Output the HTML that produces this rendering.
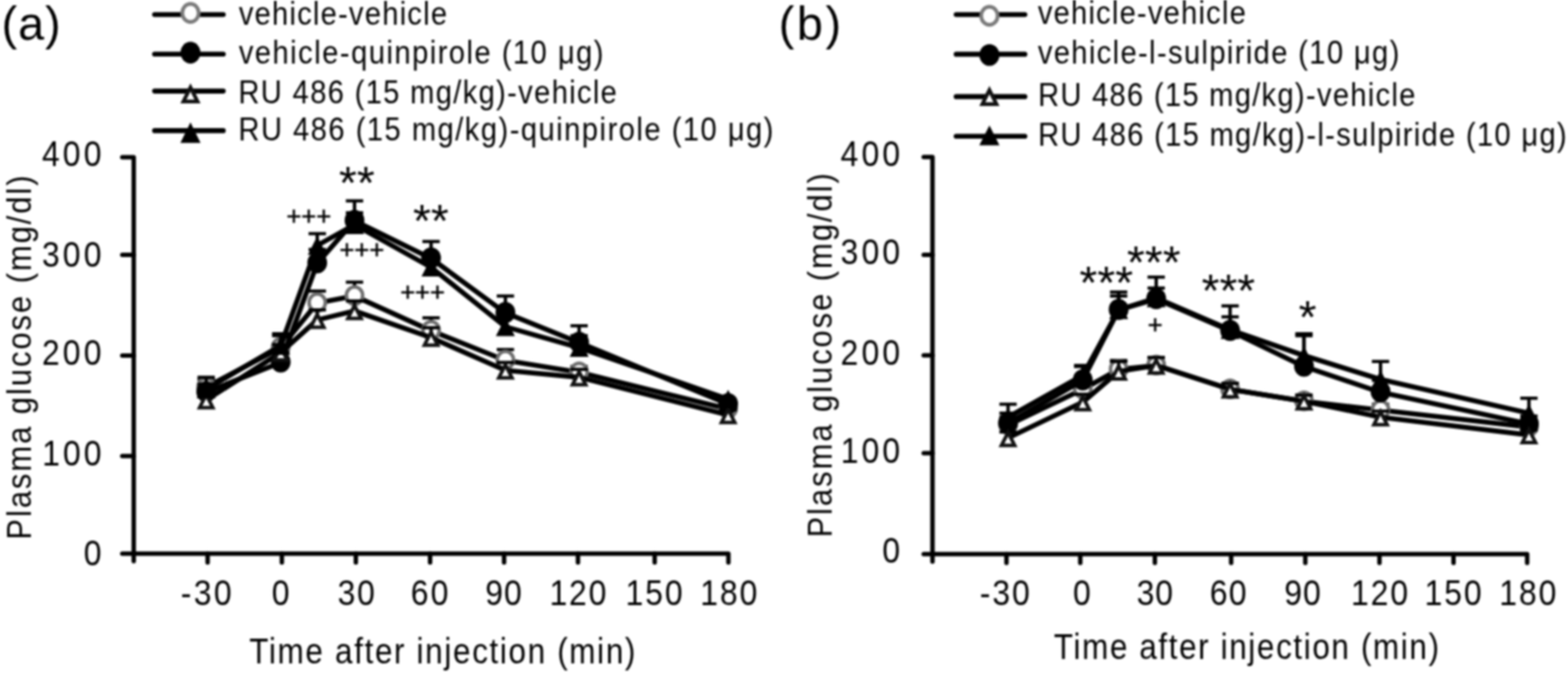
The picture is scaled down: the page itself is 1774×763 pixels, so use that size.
<!DOCTYPE html>
<html><head><meta charset="utf-8"><title>Plasma glucose</title>
<style>html,body{margin:0;padding:0;background:#fff;overflow:hidden;}svg{display:block;}#w{filter:blur(1px);}</style>
</head><body>
<div id="w"><svg width="1774" height="763" viewBox="0 0 1774 763" font-family="Liberation Sans, Arial, sans-serif" fill="#000">
<rect width="1774" height="763" fill="#fff"/>
<g stroke="#000" stroke-width="5.0" fill="none" stroke-linecap="round">
<path d="M138.3 178.1 H151.3 V635.3" stroke-linejoin="round"/>
<path d="M138.3 626.8 H824.1 V636.8" stroke-linejoin="round"/>
<path d="M138.3 288.6 H151.3"/>
<path d="M138.3 402.6 H151.3"/>
<path d="M138.3 516.2 H151.3"/>
<path d="M234.9 626.8 V636.8"/>
<path d="M318.9 626.8 V636.8"/>
<path d="M402.6 626.8 V636.8"/>
<path d="M486.6 626.8 V636.8"/>
<path d="M570.3 626.8 V636.8"/>
<path d="M653.9 626.8 V636.8"/>
<path d="M740.7 626.8 V636.8"/>
</g>
<text transform="scale(0.89,1)" x="53.27" y="188.33" font-size="40.5" textLength="75.61" lengthAdjust="spacing">400</text>
<text transform="scale(0.89,1)" x="53.35" y="302.13" font-size="40.5" textLength="75.54" lengthAdjust="spacing">300</text>
<text transform="scale(0.89,1)" x="53.41" y="413.03" font-size="40.5" textLength="75.48" lengthAdjust="spacing">200</text>
<text transform="scale(0.89,1)" x="53.54" y="526.93" font-size="40.5" textLength="75.35" lengthAdjust="spacing">100</text>
<text transform="scale(0.89,1)" x="106.36" y="640.03" font-size="40.5">0</text>
<text transform="scale(0.89,1)" x="229.66" y="685.20" font-size="40.5" textLength="64.73" lengthAdjust="spacing">-30</text>
<text transform="scale(0.89,1)" x="345.65" y="685.20" font-size="40.5">0</text>
<text transform="scale(0.89,1)" x="429.13" y="685.20" font-size="40.5" textLength="47.28" lengthAdjust="spacing">30</text>
<text transform="scale(0.89,1)" x="522.33" y="685.20" font-size="40.5" textLength="47.68" lengthAdjust="spacing">60</text>
<text transform="scale(0.89,1)" x="616.75" y="685.20" font-size="40.5" textLength="46.51" lengthAdjust="spacing">90</text>
<text transform="scale(0.89,1)" x="698.49" y="685.20" font-size="40.5" textLength="72.42" lengthAdjust="spacing">120</text>
<text transform="scale(0.89,1)" x="795.34" y="685.20" font-size="40.5" textLength="72.53" lengthAdjust="spacing">150</text>
<text transform="scale(0.89,1)" x="890.17" y="685.20" font-size="40.5" textLength="72.42" lengthAdjust="spacing">180</text>
<text transform="scale(0.89,1)" x="316.85" y="751.30" font-size="40" textLength="490.91" lengthAdjust="spacing">Time after injection (min)</text>
<text transform="translate(34.60,608.00) rotate(-90) scale(0.89,1)" x="-3.24" font-size="39.5" textLength="463.22" lengthAdjust="spacing">Plasma glucose (mg/dl)</text>
<text transform="scale(1.0,1)" x="1.71" y="45.20" font-size="53" textLength="67.07" lengthAdjust="spacing">(a)</text>
<path d="M174.9 16.5 H252.6" stroke="#000" stroke-width="5.6" stroke-linecap="round"/>
<ellipse cx="215.5" cy="14.6" rx="9.3" ry="10.3" fill="#fff" stroke="#7a7a7a" stroke-width="4.2"/>
<text transform="scale(0.89,1)" x="303.58" y="27.50" font-size="37" textLength="264.69" lengthAdjust="spacing">vehicle-vehicle</text>
<path d="M174.9 61.3 H252.6" stroke="#000" stroke-width="5.6" stroke-linecap="round"/>
<ellipse cx="215.5" cy="59.6" rx="11.3" ry="12.3" fill="#000"/>
<text transform="scale(0.89,1)" x="303.58" y="72.00" font-size="37" textLength="463.66" lengthAdjust="spacing">vehicle-quinpirole (10 μg)</text>
<path d="M174.9 103.1 H252.6" stroke="#000" stroke-width="5.6" stroke-linecap="round"/>
<polygon points="215.5,99.0 223.5,114.9 207.5,114.9" fill="#fff" stroke="#111" stroke-width="4.2" stroke-linejoin="miter" stroke-miterlimit="10"/>
<text transform="scale(0.89,1)" x="303.14" y="117.00" font-size="37" textLength="481.08" lengthAdjust="spacing">RU 486 (15 mg/kg)-vehicle</text>
<path d="M174.9 147.9 H252.6" stroke="#000" stroke-width="5.6" stroke-linecap="round"/>
<polygon points="215.5,138.5 226.9,161.8 204.1,161.8" fill="#000"/>
<text transform="scale(0.89,1)" x="303.14" y="158.60" font-size="37" textLength="680.05" lengthAdjust="spacing">RU 486 (15 mg/kg)-quinpirole (10 μg)</text>
<path d="M233.3 438.3 V429.4" stroke="#000" stroke-width="3.8" fill="none"/><path d="M223.5 429.4 H243.1" stroke="#000" stroke-width="3.6" fill="none"/>
<path d="M317.6 393.5 V380.0" stroke="#000" stroke-width="3.8" fill="none"/><path d="M307.8 380.0 H327.4" stroke="#000" stroke-width="3.6" fill="none"/>
<path d="M358.9 343.0 V329.5" stroke="#000" stroke-width="3.8" fill="none"/><path d="M349.1 329.5 H368.8" stroke="#000" stroke-width="3.6" fill="none"/>
<path d="M401.1 335.1 V319.4" stroke="#000" stroke-width="3.8" fill="none"/><path d="M391.3 319.4 H410.9" stroke="#000" stroke-width="3.6" fill="none"/>
<path d="M487.7 374.4 V359.8" stroke="#000" stroke-width="3.8" fill="none"/><path d="M477.9 359.8 H497.5" stroke="#000" stroke-width="3.6" fill="none"/>
<path d="M571.8 408.0 V395.7" stroke="#000" stroke-width="3.8" fill="none"/><path d="M562.0 395.7 H581.6" stroke="#000" stroke-width="3.6" fill="none"/>
<path d="M655.2 421.5 V414.8" stroke="#000" stroke-width="3.8" fill="none"/><path d="M645.4 414.8 H665.0" stroke="#000" stroke-width="3.6" fill="none"/>
<path d="M823.8 463.0 V457.4" stroke="#000" stroke-width="3.8" fill="none"/><path d="M814.0 457.4 H833.6" stroke="#000" stroke-width="3.6" fill="none"/>
<path d="M233.3 438.3 L317.6 393.5 L358.9 343.0 L401.1 335.1 L487.7 374.4 L571.8 408.0 L655.2 421.5 L823.8 463.0" stroke="#000" stroke-width="5.6" fill="none" stroke-linejoin="round"/>
<ellipse cx="233.3" cy="437.8" rx="9.2" ry="9.8" fill="#fff" stroke="#6e6e6e" stroke-width="4"/>
<ellipse cx="317.6" cy="393.0" rx="9.2" ry="9.8" fill="#fff" stroke="#6e6e6e" stroke-width="4"/>
<ellipse cx="358.9" cy="342.5" rx="9.2" ry="9.8" fill="#fff" stroke="#6e6e6e" stroke-width="4"/>
<ellipse cx="401.1" cy="334.6" rx="9.2" ry="9.8" fill="#fff" stroke="#6e6e6e" stroke-width="4"/>
<ellipse cx="487.7" cy="373.9" rx="9.2" ry="9.8" fill="#fff" stroke="#6e6e6e" stroke-width="4"/>
<ellipse cx="571.8" cy="407.5" rx="9.2" ry="9.8" fill="#fff" stroke="#6e6e6e" stroke-width="4"/>
<ellipse cx="655.2" cy="421.0" rx="9.2" ry="9.8" fill="#fff" stroke="#6e6e6e" stroke-width="4"/>
<ellipse cx="823.8" cy="462.5" rx="9.2" ry="9.8" fill="#fff" stroke="#6e6e6e" stroke-width="4"/>
<path d="M233.3 443.9 V435.0" stroke="#000" stroke-width="3.8" fill="none"/><path d="M223.5 435.0 H243.1" stroke="#000" stroke-width="3.6" fill="none"/>
<path d="M317.6 410.3 V399.1" stroke="#000" stroke-width="3.8" fill="none"/><path d="M307.8 399.1 H327.4" stroke="#000" stroke-width="3.6" fill="none"/>
<path d="M358.9 298.1 V282.4" stroke="#000" stroke-width="3.8" fill="none"/><path d="M349.1 282.4 H368.8" stroke="#000" stroke-width="3.6" fill="none"/>
<path d="M401.1 249.9 V227.4" stroke="#000" stroke-width="3.8" fill="none"/><path d="M391.3 227.4 H410.9" stroke="#000" stroke-width="3.6" fill="none"/>
<path d="M487.7 292.5 V273.4" stroke="#000" stroke-width="3.8" fill="none"/><path d="M477.9 273.4 H497.5" stroke="#000" stroke-width="3.6" fill="none"/>
<path d="M571.8 354.2 V335.1" stroke="#000" stroke-width="3.8" fill="none"/><path d="M562.0 335.1 H581.6" stroke="#000" stroke-width="3.6" fill="none"/>
<path d="M655.2 387.9 V368.8" stroke="#000" stroke-width="3.8" fill="none"/><path d="M645.4 368.8 H665.0" stroke="#000" stroke-width="3.6" fill="none"/>
<path d="M233.3 443.9 L317.6 410.3 L358.9 298.1 L401.1 249.9 L487.7 292.5 L571.8 354.2 L655.2 387.9 L823.8 457.4" stroke="#000" stroke-width="5.6" fill="none" stroke-linejoin="round"/>
<ellipse cx="233.3" cy="443.4" rx="11.2" ry="12" fill="#000"/>
<ellipse cx="317.6" cy="409.8" rx="11.2" ry="12" fill="#000"/>
<ellipse cx="358.9" cy="297.6" rx="11.2" ry="12" fill="#000"/>
<ellipse cx="401.1" cy="249.4" rx="11.2" ry="12" fill="#000"/>
<ellipse cx="487.7" cy="292.0" rx="11.2" ry="12" fill="#000"/>
<ellipse cx="571.8" cy="353.7" rx="11.2" ry="12" fill="#000"/>
<ellipse cx="655.2" cy="387.4" rx="11.2" ry="12" fill="#000"/>
<ellipse cx="823.8" cy="456.9" rx="11.2" ry="12" fill="#000"/>
<path d="M233.3 452.9 V447.3" stroke="#000" stroke-width="3.8" fill="none"/><path d="M223.5 447.3 H243.1" stroke="#000" stroke-width="3.6" fill="none"/>
<path d="M317.6 399.1 V390.1" stroke="#000" stroke-width="3.8" fill="none"/><path d="M307.8 390.1 H327.4" stroke="#000" stroke-width="3.6" fill="none"/>
<path d="M358.9 362.1 V350.8" stroke="#000" stroke-width="3.8" fill="none"/><path d="M349.1 350.8 H368.8" stroke="#000" stroke-width="3.6" fill="none"/>
<path d="M401.1 352.0 V340.7" stroke="#000" stroke-width="3.8" fill="none"/><path d="M391.3 340.7 H410.9" stroke="#000" stroke-width="3.6" fill="none"/>
<path d="M487.7 382.2 V371.0" stroke="#000" stroke-width="3.8" fill="none"/><path d="M477.9 371.0 H497.5" stroke="#000" stroke-width="3.6" fill="none"/>
<path d="M571.8 419.3 V410.3" stroke="#000" stroke-width="3.8" fill="none"/><path d="M562.0 410.3 H581.6" stroke="#000" stroke-width="3.6" fill="none"/>
<path d="M655.2 427.1 V418.1" stroke="#000" stroke-width="3.8" fill="none"/><path d="M645.4 418.1 H665.0" stroke="#000" stroke-width="3.6" fill="none"/>
<path d="M823.8 469.7 V464.1" stroke="#000" stroke-width="3.8" fill="none"/><path d="M814.0 464.1 H833.6" stroke="#000" stroke-width="3.6" fill="none"/>
<path d="M233.3 452.9 L317.6 399.1 L358.9 362.1 L401.1 352.0 L487.7 382.2 L571.8 419.3 L655.2 427.1 L823.8 469.7" stroke="#000" stroke-width="5.6" fill="none" stroke-linejoin="round"/>
<polygon points="233.3,446.8 240.8,461.4 225.8,461.4" fill="#fff" stroke="#111" stroke-width="4.0" stroke-linejoin="miter" stroke-miterlimit="10"/>
<polygon points="317.6,393.0 325.1,407.6 310.1,407.6" fill="#fff" stroke="#111" stroke-width="4.0" stroke-linejoin="miter" stroke-miterlimit="10"/>
<polygon points="358.9,355.9 366.4,370.6 351.5,370.6" fill="#fff" stroke="#111" stroke-width="4.0" stroke-linejoin="miter" stroke-miterlimit="10"/>
<polygon points="401.1,345.8 408.6,360.5 393.6,360.5" fill="#fff" stroke="#111" stroke-width="4.0" stroke-linejoin="miter" stroke-miterlimit="10"/>
<polygon points="487.7,376.1 495.2,390.7 480.2,390.7" fill="#fff" stroke="#111" stroke-width="4.0" stroke-linejoin="miter" stroke-miterlimit="10"/>
<polygon points="571.8,413.2 579.3,427.8 564.3,427.8" fill="#fff" stroke="#111" stroke-width="4.0" stroke-linejoin="miter" stroke-miterlimit="10"/>
<polygon points="655.2,421.0 662.7,435.6 647.7,435.6" fill="#fff" stroke="#111" stroke-width="4.0" stroke-linejoin="miter" stroke-miterlimit="10"/>
<polygon points="823.8,463.6 831.3,478.2 816.3,478.2" fill="#fff" stroke="#111" stroke-width="4.0" stroke-linejoin="miter" stroke-miterlimit="10"/>
<path d="M233.3 440.6 V427.1" stroke="#000" stroke-width="3.8" fill="none"/><path d="M223.5 427.1 H243.1" stroke="#000" stroke-width="3.6" fill="none"/>
<path d="M317.6 391.2 V377.8" stroke="#000" stroke-width="3.8" fill="none"/><path d="M307.8 377.8 H327.4" stroke="#000" stroke-width="3.6" fill="none"/>
<path d="M358.9 277.9 V264.5" stroke="#000" stroke-width="3.8" fill="none"/><path d="M349.1 264.5 H368.8" stroke="#000" stroke-width="3.6" fill="none"/>
<path d="M401.1 254.4 V240.9" stroke="#000" stroke-width="3.8" fill="none"/><path d="M391.3 240.9 H410.9" stroke="#000" stroke-width="3.6" fill="none"/>
<path d="M487.7 302.6 V289.1" stroke="#000" stroke-width="3.8" fill="none"/><path d="M477.9 289.1 H497.5" stroke="#000" stroke-width="3.6" fill="none"/>
<path d="M571.8 369.9 V349.7" stroke="#000" stroke-width="3.8" fill="none"/><path d="M562.0 349.7 H581.6" stroke="#000" stroke-width="3.6" fill="none"/>
<path d="M655.2 393.5 V380.0" stroke="#000" stroke-width="3.8" fill="none"/><path d="M645.4 380.0 H665.0" stroke="#000" stroke-width="3.6" fill="none"/>
<path d="M233.3 440.6 L317.6 391.2 L358.9 277.9 L401.1 254.4 L487.7 302.6 L571.8 369.9 L655.2 393.5 L823.8 451.8" stroke="#000" stroke-width="5.6" fill="none" stroke-linejoin="round"/>
<polygon points="233.3,430.1 244.0,451.1 222.5,451.1" fill="#000"/>
<polygon points="317.6,380.7 328.3,401.7 306.8,401.7" fill="#000"/>
<polygon points="358.9,267.4 369.7,288.4 348.2,288.4" fill="#000"/>
<polygon points="401.1,243.9 411.9,264.9 390.4,264.9" fill="#000"/>
<polygon points="487.7,292.1 498.4,313.1 476.9,313.1" fill="#000"/>
<polygon points="571.8,359.4 582.5,380.4 561.0,380.4" fill="#000"/>
<polygon points="655.2,383.0 666.0,404.0 644.5,404.0" fill="#000"/>
<polygon points="823.8,441.3 834.6,462.3 813.1,462.3" fill="#000"/>
<text x="403.65" y="224.52" font-size="52" text-anchor="middle">**</text>
<text x="349.35" y="254.81" font-size="29" text-anchor="middle" stroke="#000" stroke-width="0.5">+++</text>
<text x="409.35" y="292.91" font-size="29" text-anchor="middle" stroke="#000" stroke-width="0.5">+++</text>
<text x="487.55" y="267.82" font-size="52" text-anchor="middle">**</text>
<text x="478.10" y="341.31" font-size="29" text-anchor="middle" stroke="#000" stroke-width="0.5">+++</text>
<g stroke="#000" stroke-width="5.0" fill="none" stroke-linecap="round">
<path d="M1045.0 177.8 H1055.0 V635.7" stroke-linejoin="round"/>
<path d="M1045.0 627.2 H1727.8 V637.2" stroke-linejoin="round"/>
<path d="M1045.0 288.4 H1055.0"/>
<path d="M1045.0 402.3 H1055.0"/>
<path d="M1045.0 513.1 H1055.0"/>
<path d="M1138.7 627.2 V637.2"/>
<path d="M1222.2 627.2 V637.2"/>
<path d="M1306.6 627.2 V637.2"/>
<path d="M1392.9 627.2 V637.2"/>
<path d="M1476.8 627.2 V637.2"/>
<path d="M1560.7 627.2 V637.2"/>
<path d="M1644.5 627.2 V637.2"/>
</g>
<text transform="scale(0.89,1)" x="1068.55" y="188.33" font-size="40.5" textLength="75.61" lengthAdjust="spacing">400</text>
<text transform="scale(0.89,1)" x="1068.63" y="298.83" font-size="40.5" textLength="75.54" lengthAdjust="spacing">300</text>
<text transform="scale(0.89,1)" x="1068.69" y="412.93" font-size="40.5" textLength="75.48" lengthAdjust="spacing">200</text>
<text transform="scale(0.89,1)" x="1068.82" y="523.83" font-size="40.5" textLength="75.35" lengthAdjust="spacing">100</text>
<text transform="scale(0.89,1)" x="1121.64" y="637.43" font-size="40.5">0</text>
<text transform="scale(0.89,1)" x="1245.50" y="685.20" font-size="40.5" textLength="63.61" lengthAdjust="spacing">-30</text>
<text transform="scale(0.89,1)" x="1364.13" y="685.20" font-size="40.5">0</text>
<text transform="scale(0.89,1)" x="1444.97" y="685.20" font-size="40.5" textLength="46.05" lengthAdjust="spacing">30</text>
<text transform="scale(0.89,1)" x="1538.06" y="685.20" font-size="40.5" textLength="46.67" lengthAdjust="spacing">60</text>
<text transform="scale(0.89,1)" x="1632.48" y="685.20" font-size="40.5" textLength="46.51" lengthAdjust="spacing">90</text>
<text transform="scale(0.89,1)" x="1717.48" y="685.20" font-size="40.5" textLength="72.42" lengthAdjust="spacing">120</text>
<text transform="scale(0.89,1)" x="1811.07" y="685.20" font-size="40.5" textLength="72.53" lengthAdjust="spacing">150</text>
<text transform="scale(0.89,1)" x="1905.90" y="685.20" font-size="40.5" textLength="72.42" lengthAdjust="spacing">180</text>
<text transform="scale(0.89,1)" x="1339.55" y="746.20" font-size="40" textLength="489.67" lengthAdjust="spacing">Time after injection (min)</text>
<text transform="translate(941.20,605.60) rotate(-90) scale(0.89,1)" x="-3.24" font-size="39.5" textLength="463.33" lengthAdjust="spacing">Plasma glucose (mg/dl)</text>
<text transform="scale(1.0,1)" x="880.91" y="45.20" font-size="53" textLength="70.77" lengthAdjust="spacing">(b)</text>
<path d="M1081.8 16.5 H1159.5" stroke="#000" stroke-width="5.6" stroke-linecap="round"/>
<ellipse cx="1119.4" cy="17.9" rx="9.3" ry="10.3" fill="#fff" stroke="#7a7a7a" stroke-width="4.2"/>
<text transform="scale(0.89,1)" x="1319.31" y="27.20" font-size="37" textLength="264.35" lengthAdjust="spacing">vehicle-vehicle</text>
<path d="M1081.8 61.4 H1159.5" stroke="#000" stroke-width="5.6" stroke-linecap="round"/>
<ellipse cx="1119.4" cy="62.2" rx="11.3" ry="12.3" fill="#000"/>
<text transform="scale(0.89,1)" x="1319.31" y="71.80" font-size="37" textLength="459.50" lengthAdjust="spacing">vehicle-l-sulpiride (10 μg)</text>
<path d="M1081.8 109.4 H1159.5" stroke="#000" stroke-width="5.6" stroke-linecap="round"/>
<polygon points="1119.4,102.0 1127.4,117.9 1111.4,117.9" fill="#fff" stroke="#111" stroke-width="4.2" stroke-linejoin="miter" stroke-miterlimit="10"/>
<text transform="scale(0.89,1)" x="1319.55" y="120.30" font-size="37" textLength="479.62" lengthAdjust="spacing">RU 486 (15 mg/kg)-vehicle</text>
<path d="M1081.8 154.3 H1159.5" stroke="#000" stroke-width="5.6" stroke-linecap="round"/>
<polygon points="1119.4,141.9 1130.8,164.6 1108.0,164.6" fill="#000"/>
<text transform="scale(0.89,1)" x="1319.55" y="164.90" font-size="37" textLength="672.07" lengthAdjust="spacing">RU 486 (15 mg/kg)-l-sulpiride (10 μg)</text>
<path d="M1140.5 481.1 V472.2" stroke="#000" stroke-width="3.8" fill="none"/><path d="M1130.7 472.2 H1150.3" stroke="#000" stroke-width="3.6" fill="none"/>
<path d="M1225.0 440.7 V429.5" stroke="#000" stroke-width="3.8" fill="none"/><path d="M1215.2 429.5 H1234.8" stroke="#000" stroke-width="3.6" fill="none"/>
<path d="M1265.6 418.2 V408.1" stroke="#000" stroke-width="3.8" fill="none"/><path d="M1255.8 408.1 H1275.4" stroke="#000" stroke-width="3.6" fill="none"/>
<path d="M1308.1 413.7 V404.7" stroke="#000" stroke-width="3.8" fill="none"/><path d="M1298.3 404.7 H1317.9" stroke="#000" stroke-width="3.6" fill="none"/>
<path d="M1391.7 440.7 V434.0" stroke="#000" stroke-width="3.8" fill="none"/><path d="M1381.9 434.0 H1401.5" stroke="#000" stroke-width="3.6" fill="none"/>
<path d="M1475.3 454.2 V447.4" stroke="#000" stroke-width="3.8" fill="none"/><path d="M1465.5 447.4 H1485.1" stroke="#000" stroke-width="3.6" fill="none"/>
<path d="M1561.9 464.3 V457.6" stroke="#000" stroke-width="3.8" fill="none"/><path d="M1552.1 457.6 H1571.7" stroke="#000" stroke-width="3.6" fill="none"/>
<path d="M1729.8 483.4 V476.7" stroke="#000" stroke-width="3.8" fill="none"/><path d="M1720.0 476.7 H1739.6" stroke="#000" stroke-width="3.6" fill="none"/>
<path d="M1140.5 481.1 L1225.0 440.7 L1265.6 418.2 L1308.1 413.7 L1391.7 440.7 L1475.3 454.2 L1561.9 464.3 L1729.8 483.4" stroke="#000" stroke-width="5.6" fill="none" stroke-linejoin="round"/>
<ellipse cx="1140.5" cy="480.6" rx="9.2" ry="9.8" fill="#fff" stroke="#6e6e6e" stroke-width="4"/>
<ellipse cx="1225.0" cy="440.2" rx="9.2" ry="9.8" fill="#fff" stroke="#6e6e6e" stroke-width="4"/>
<ellipse cx="1265.6" cy="417.7" rx="9.2" ry="9.8" fill="#fff" stroke="#6e6e6e" stroke-width="4"/>
<ellipse cx="1308.1" cy="413.2" rx="9.2" ry="9.8" fill="#fff" stroke="#6e6e6e" stroke-width="4"/>
<ellipse cx="1391.7" cy="440.2" rx="9.2" ry="9.8" fill="#fff" stroke="#6e6e6e" stroke-width="4"/>
<ellipse cx="1475.3" cy="453.7" rx="9.2" ry="9.8" fill="#fff" stroke="#6e6e6e" stroke-width="4"/>
<ellipse cx="1561.9" cy="463.8" rx="9.2" ry="9.8" fill="#fff" stroke="#6e6e6e" stroke-width="4"/>
<ellipse cx="1729.8" cy="482.9" rx="9.2" ry="9.8" fill="#fff" stroke="#6e6e6e" stroke-width="4"/>
<path d="M1140.5 478.9 V467.7" stroke="#000" stroke-width="3.8" fill="none"/><path d="M1130.7 467.7 H1150.3" stroke="#000" stroke-width="3.6" fill="none"/>
<path d="M1225.0 430.6 V414.9" stroke="#000" stroke-width="3.8" fill="none"/><path d="M1215.2 414.9 H1234.8" stroke="#000" stroke-width="3.6" fill="none"/>
<path d="M1265.6 350.8 V335.1" stroke="#000" stroke-width="3.8" fill="none"/><path d="M1255.8 335.1 H1275.4" stroke="#000" stroke-width="3.6" fill="none"/>
<path d="M1308.1 338.5 V313.7" stroke="#000" stroke-width="3.8" fill="none"/><path d="M1298.3 313.7 H1317.9" stroke="#000" stroke-width="3.6" fill="none"/>
<path d="M1391.7 374.4 V346.3" stroke="#000" stroke-width="3.8" fill="none"/><path d="M1381.9 346.3 H1401.5" stroke="#000" stroke-width="3.6" fill="none"/>
<path d="M1475.3 414.9 V377.8" stroke="#000" stroke-width="3.8" fill="none"/><path d="M1465.5 377.8 H1485.1" stroke="#000" stroke-width="3.6" fill="none"/>
<path d="M1561.9 444.1 V430.6" stroke="#000" stroke-width="3.8" fill="none"/><path d="M1552.1 430.6 H1571.7" stroke="#000" stroke-width="3.6" fill="none"/>
<path d="M1729.8 480.0 V471.0" stroke="#000" stroke-width="3.8" fill="none"/><path d="M1720.0 471.0 H1739.6" stroke="#000" stroke-width="3.6" fill="none"/>
<path d="M1140.5 478.9 L1225.0 430.6 L1265.6 350.8 L1308.1 338.5 L1391.7 374.4 L1475.3 414.9 L1561.9 444.1 L1729.8 480.0" stroke="#000" stroke-width="5.6" fill="none" stroke-linejoin="round"/>
<ellipse cx="1140.5" cy="478.4" rx="11.2" ry="12" fill="#000"/>
<ellipse cx="1225.0" cy="430.1" rx="11.2" ry="12" fill="#000"/>
<ellipse cx="1265.6" cy="350.3" rx="11.2" ry="12" fill="#000"/>
<ellipse cx="1308.1" cy="338.0" rx="11.2" ry="12" fill="#000"/>
<ellipse cx="1391.7" cy="373.9" rx="11.2" ry="12" fill="#000"/>
<ellipse cx="1475.3" cy="414.4" rx="11.2" ry="12" fill="#000"/>
<ellipse cx="1561.9" cy="443.6" rx="11.2" ry="12" fill="#000"/>
<ellipse cx="1729.8" cy="479.5" rx="11.2" ry="12" fill="#000"/>
<path d="M1140.5 495.8 V489.0" stroke="#000" stroke-width="3.8" fill="none"/><path d="M1130.7 489.0 H1150.3" stroke="#000" stroke-width="3.6" fill="none"/>
<path d="M1225.0 455.3 V446.3" stroke="#000" stroke-width="3.8" fill="none"/><path d="M1215.2 446.3 H1234.8" stroke="#000" stroke-width="3.6" fill="none"/>
<path d="M1265.6 420.5 V409.2" stroke="#000" stroke-width="3.8" fill="none"/><path d="M1255.8 409.2 H1275.4" stroke="#000" stroke-width="3.6" fill="none"/>
<path d="M1308.1 413.7 V404.7" stroke="#000" stroke-width="3.8" fill="none"/><path d="M1298.3 404.7 H1317.9" stroke="#000" stroke-width="3.6" fill="none"/>
<path d="M1391.7 440.7 V434.0" stroke="#000" stroke-width="3.8" fill="none"/><path d="M1381.9 434.0 H1401.5" stroke="#000" stroke-width="3.6" fill="none"/>
<path d="M1475.3 454.2 V447.4" stroke="#000" stroke-width="3.8" fill="none"/><path d="M1465.5 447.4 H1485.1" stroke="#000" stroke-width="3.6" fill="none"/>
<path d="M1561.9 472.2 V465.4" stroke="#000" stroke-width="3.8" fill="none"/><path d="M1552.1 465.4 H1571.7" stroke="#000" stroke-width="3.6" fill="none"/>
<path d="M1729.8 492.4 V486.8" stroke="#000" stroke-width="3.8" fill="none"/><path d="M1720.0 486.8 H1739.6" stroke="#000" stroke-width="3.6" fill="none"/>
<path d="M1140.5 495.8 L1225.0 455.3 L1265.6 420.5 L1308.1 413.7 L1391.7 440.7 L1475.3 454.2 L1561.9 472.2 L1729.8 492.4" stroke="#000" stroke-width="5.6" fill="none" stroke-linejoin="round"/>
<polygon points="1140.5,489.6 1148.0,504.3 1133.0,504.3" fill="#fff" stroke="#111" stroke-width="4.0" stroke-linejoin="miter" stroke-miterlimit="10"/>
<polygon points="1225.0,449.2 1232.5,463.8 1217.5,463.8" fill="#fff" stroke="#111" stroke-width="4.0" stroke-linejoin="miter" stroke-miterlimit="10"/>
<polygon points="1265.6,414.4 1273.1,429.0 1258.1,429.0" fill="#fff" stroke="#111" stroke-width="4.0" stroke-linejoin="miter" stroke-miterlimit="10"/>
<polygon points="1308.1,407.6 1315.6,422.2 1300.6,422.2" fill="#fff" stroke="#111" stroke-width="4.0" stroke-linejoin="miter" stroke-miterlimit="10"/>
<polygon points="1391.7,434.6 1399.2,449.2 1384.2,449.2" fill="#fff" stroke="#111" stroke-width="4.0" stroke-linejoin="miter" stroke-miterlimit="10"/>
<polygon points="1475.3,448.1 1482.8,462.7 1467.8,462.7" fill="#fff" stroke="#111" stroke-width="4.0" stroke-linejoin="miter" stroke-miterlimit="10"/>
<polygon points="1561.9,466.0 1569.4,480.7 1554.4,480.7" fill="#fff" stroke="#111" stroke-width="4.0" stroke-linejoin="miter" stroke-miterlimit="10"/>
<polygon points="1729.8,486.3 1737.3,500.9 1722.3,500.9" fill="#fff" stroke="#111" stroke-width="4.0" stroke-linejoin="miter" stroke-miterlimit="10"/>
<path d="M1140.5 472.2 V457.6" stroke="#000" stroke-width="3.8" fill="none"/><path d="M1130.7 457.6 H1150.3" stroke="#000" stroke-width="3.6" fill="none"/>
<path d="M1225.0 425.0 V413.7" stroke="#000" stroke-width="3.8" fill="none"/><path d="M1215.2 413.7 H1234.8" stroke="#000" stroke-width="3.6" fill="none"/>
<path d="M1265.6 350.8 V330.6" stroke="#000" stroke-width="3.8" fill="none"/><path d="M1255.8 330.6 H1275.4" stroke="#000" stroke-width="3.6" fill="none"/>
<path d="M1308.1 337.3 V326.1" stroke="#000" stroke-width="3.8" fill="none"/><path d="M1298.3 326.1 H1317.9" stroke="#000" stroke-width="3.6" fill="none"/>
<path d="M1391.7 373.3 V358.7" stroke="#000" stroke-width="3.8" fill="none"/><path d="M1381.9 358.7 H1401.5" stroke="#000" stroke-width="3.6" fill="none"/>
<path d="M1475.3 402.5 V380.0" stroke="#000" stroke-width="3.8" fill="none"/><path d="M1465.5 380.0 H1485.1" stroke="#000" stroke-width="3.6" fill="none"/>
<path d="M1561.9 429.5 V409.2" stroke="#000" stroke-width="3.8" fill="none"/><path d="M1552.1 409.2 H1571.7" stroke="#000" stroke-width="3.6" fill="none"/>
<path d="M1729.8 467.7 V450.8" stroke="#000" stroke-width="3.8" fill="none"/><path d="M1720.0 450.8 H1739.6" stroke="#000" stroke-width="3.6" fill="none"/>
<path d="M1140.5 472.2 L1225.0 425.0 L1265.6 350.8 L1308.1 337.3 L1391.7 373.3 L1475.3 402.5 L1561.9 429.5 L1729.8 467.7" stroke="#000" stroke-width="5.6" fill="none" stroke-linejoin="round"/>
<polygon points="1140.5,461.7 1151.2,482.7 1129.8,482.7" fill="#000"/>
<polygon points="1225.0,414.5 1235.8,435.5 1214.2,435.5" fill="#000"/>
<polygon points="1265.6,340.3 1276.4,361.3 1254.9,361.3" fill="#000"/>
<polygon points="1308.1,326.8 1318.8,347.8 1297.3,347.8" fill="#000"/>
<polygon points="1391.7,362.8 1402.5,383.8 1381.0,383.8" fill="#000"/>
<polygon points="1475.3,392.0 1486.0,413.0 1464.5,413.0" fill="#000"/>
<polygon points="1561.9,419.0 1572.7,440.0 1551.2,440.0" fill="#000"/>
<polygon points="1729.8,457.2 1740.5,478.2 1719.0,478.2" fill="#000"/>
<text x="1251.65" y="338.32" font-size="52" text-anchor="middle">***</text>
<text x="1305.35" y="314.52" font-size="52" text-anchor="middle">***</text>
<text x="1389.75" y="347.12" font-size="52" text-anchor="middle">***</text>
<text x="1479.40" y="377.32" font-size="52" text-anchor="middle">*</text>
<text x="1307.00" y="377.61" font-size="29" text-anchor="middle" stroke="#000" stroke-width="0.5">+</text>
</svg></div>
</body></html>
